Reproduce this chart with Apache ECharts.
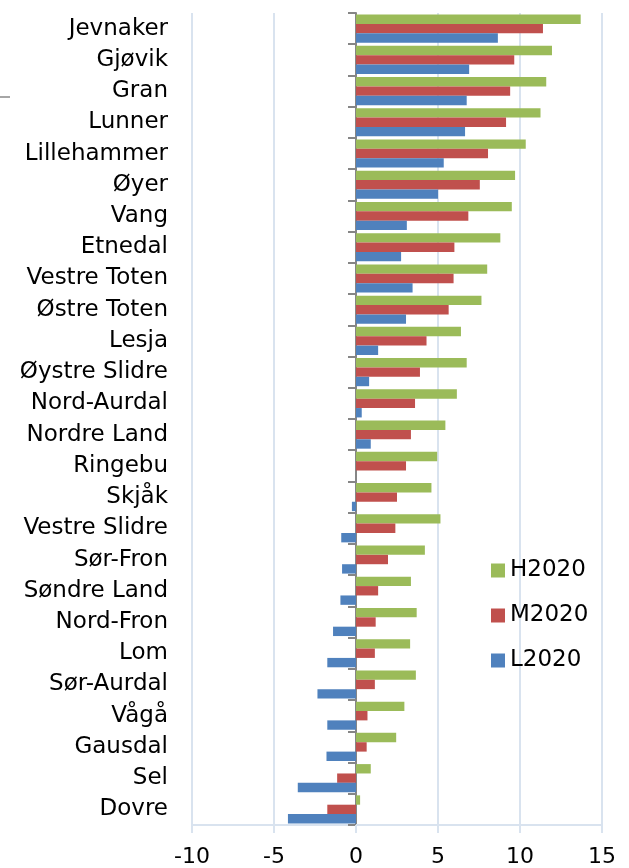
<!DOCTYPE html>
<html>
<head>
<meta charset="utf-8">
<script src="https://cdn.jsdelivr.net/npm/echarts@6/dist/echarts.min.js"></script>
<style>
html, body { margin: 0; padding: 0; background: #fff; }
#chart_panel { width: 629px; height: 868px; }
</style>
</head>
<body>
<div id="chart_panel"></div>
<script>
// kommuner, ovenfra og ned
var kommuner = ['Jevnaker', 'Gjøvik', 'Gran', 'Lunner', 'Lillehammer', 'Øyer', 'Vang', 'Etnedal',
	'Vestre Toten', 'Østre Toten', 'Lesja', 'Øystre Slidre', 'Nord-Aurdal', 'Nordre Land', 'Ringebu',
	'Skjåk', 'Vestre Slidre', 'Sør-Fron', 'Søndre Land', 'Nord-Fron', 'Lom', 'Sør-Aurdal', 'Vågå',
	'Gausdal', 'Sel', 'Dovre'];
var seriesNames = ['H2020', 'M2020', 'L2020'];
var h2020 = [13.7, 11.95, 11.6, 11.25, 10.35, 9.7, 9.5, 8.8, 8.0, 7.65, 6.4, 6.75, 6.15, 5.45, 4.95,
	4.6, 5.15, 4.2, 3.35, 3.7, 3.3, 3.65, 2.95, 2.45, 0.9, 0.25];
var m2020 = [11.4, 9.65, 9.4, 9.15, 8.05, 7.55, 6.85, 6.0, 5.95, 5.65, 4.3, 3.9, 3.6, 3.35, 3.05,
	2.5, 2.4, 1.95, 1.35, 1.2, 1.15, 1.15, 0.7, 0.65, -1.15, -1.75];
var l2020 = [8.65, 6.9, 6.75, 6.65, 5.35, 5.0, 3.1, 2.75, 3.45, 3.05, 1.35, 0.8, 0.35, 0.9, 0,
	-0.25, -0.9, -0.85, -0.95, -1.4, -1.75, -2.35, -1.75, -1.8, -3.55, -4.15];
var xTicks = {min: -10, max: 15, interval: 5};

var fontName = 'DejaVu Sans';
var colors = ['#9BBB59', '#C0504D', '#4F81BD'];

var myChart = echarts.init(document.getElementById('chart_panel'));

function getBarSeries() {
	var data = [h2020, m2020, l2020];
	var series = [];
	for (var i = 0; i < data.length; i++) {
		series.push({
			name: seriesNames[i],
			type: 'bar',
			yAxisIndex: 0,
			barGap: '0%',
			barCategoryGap: '10%',
			itemStyle: {color: colors[i]},
			data: data[i]
		});
	}
	return series;
}

var option = {
	animation: false,
	color: colors,
	grid: {left: 192, right: 27, top: 13, bottom: 43, containLabel: false},
	legend: {
		orient: 'vertical',
		left: 486,
		top: 554,
		icon: 'rect',
		itemWidth: 14,
		itemHeight: 14,
		itemGap: 22,
		data: seriesNames,
		textStyle: {fontFamily: fontName, fontSize: 23, lineHeight: 23, color: '#000'}
	},
	xAxis: {
		type: 'value',
		min: xTicks.min,
		max: xTicks.max,
		interval: xTicks.interval,
		axisLine: {show: true, onZero: false, lineStyle: {color: '#D9E3EF', width: 2}},
		axisTick: {show: true, length: 8, lineStyle: {color: '#D9E3EF', width: 2}},
		splitLine: {show: true, lineStyle: {color: '#D9E3EF', width: 2}},
		axisLabel: {margin: 21, fontFamily: fontName, fontSize: 22, color: '#000'}
	},
	yAxis: [
		{
			// etikettene til venstre
			type: 'category',
			inverse: true,
			position: 'left',
			data: kommuner,
			axisLine: {show: false, onZero: false},
			axisTick: {show: false},
			splitLine: {show: false},
			axisLabel: {margin: 24, fontFamily: fontName, fontSize: 23, color: '#000', interval: 0}
		},
		{
			// aksen ved null
			type: 'category',
			inverse: true,
			position: 'left',
			data: kommuner,
			axisLine: {show: true, onZero: true, lineStyle: {color: '#868686', width: 2}},
			axisTick: {show: true, length: 8, lineStyle: {color: '#868686', width: 2}},
			axisLabel: {show: false},
			splitLine: {show: false}
		}
	],
	graphic: [
		{
			type: 'line',
			shape: {x1: 0, y1: 97, x2: 10, y2: 97},
			style: {stroke: '#A6A6A6', lineWidth: 2}
		}
	],
	series: getBarSeries()
};

myChart.setOption(option, true);
window.onresize = myChart.resize;
</script>
</body>
</html>
